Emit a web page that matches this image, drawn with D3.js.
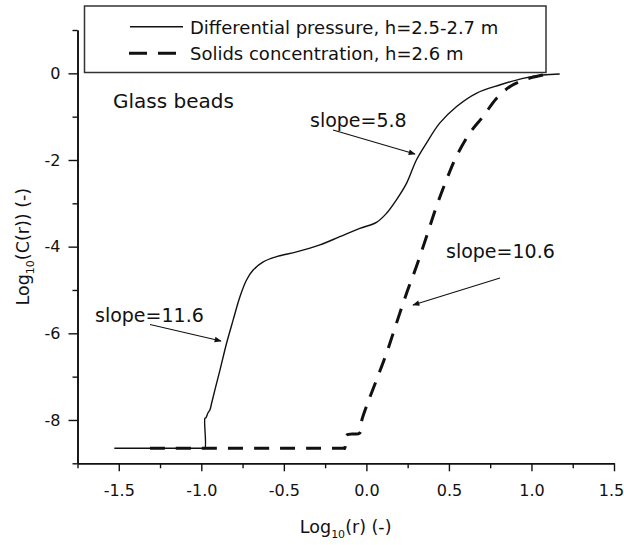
<!DOCTYPE html>
<html>
<head>
<meta charset="utf-8">
<script src="https://d3js.org/d3.v7.min.js"></script>
<style>
  body { margin: 0; background: #fff; }
  svg text { font-family: "DejaVu Sans", "Liberation Sans", Arial, sans-serif; fill: #111; }
</style>
</head>
<body>
<script>
// differential pressure, h=2.5-2.7 m (solid)
var pressureX = [-1.527, -0.99, -0.978, -0.978, -0.972, -0.96, -0.948, -0.938, -0.918, -0.887, -0.847, -0.807,
  -0.766, -0.726, -0.686, -0.625, -0.544, -0.423, -0.282, -0.161, -0.04, 0.061, 0.122, 0.182, 0.243,
  0.303, 0.364, 0.444, 0.545, 0.666, 0.807, 0.949, 1.07, 1.171];
var pressureY = [-8.654, -8.654, -8.654, -7.96, -7.95, -7.84, -7.77, -7.62, -7.31, -6.85, -6.23, -5.69,
  -5.155, -4.77, -4.54, -4.35, -4.23, -4.12, -3.96, -3.77, -3.58, -3.44, -3.23, -2.92, -2.54,
  -2.0, -1.61, -1.15, -0.77, -0.46, -0.27, -0.115, -0.04, -0.015];

// solids concentration, h=2.6 m (dashed)
var solidsX = [-1.311, -0.14, -0.131, -0.12, -0.04, -0.03, 0.0, 0.061, 0.122, 0.182, 0.243, 0.303, 0.364,
  0.424, 0.485, 0.545, 0.626, 0.706, 0.788, 0.868, 0.929, 1.0, 1.07];
var solidsY = [-8.654, -8.654, -8.654, -8.35, -8.30, -8.04, -7.69, -7.08, -6.46, -5.77, -5.08, -4.46, -3.77,
  -3.08, -2.46, -1.92, -1.38, -1.0, -0.58, -0.31, -0.19, -0.10, -0.04];

var xMajor = [-1.5, -1.0, -0.5, 0.0, 0.5, 1.0, 1.5];
var xMinor = [-1.75, -1.25, -0.75, -0.25, 0.25, 0.75, 1.25];
var yMajor = [0, -2, -4, -6, -8];
var yMinor = [1, -1, -3, -5, -7, -9];

var legendLabels = ["Differential pressure, h=2.5-2.7 m", "Solids concentration, h=2.6 m"];

var svgWidth = 624;
var svgHeight = 545;

var svg = d3.select("body")
  .append("svg")
  .attr("width", svgWidth)
  .attr("height", svgHeight);

var x = d3.scaleLinear().domain([-1.75, 1.5]).range([77.5, 614]);
var y = d3.scaleLinear().domain([-9, 1]).range([463.3, 30]);

// arrow head
svg.append("defs")
  .append("marker")
  .attr("id", "head")
  .attr("viewBox", "0 0 10 10")
  .attr("refX", 9)
  .attr("refY", 5)
  .attr("markerWidth", 9)
  .attr("markerHeight", 7)
  .attr("markerUnits", "userSpaceOnUse")
  .attr("orient", "auto")
  .append("path")
  .attr("d", "M0,1 L10,5 L0,9 Z")
  .attr("fill", "#111");

// axes
function styleAxis(g) {
  g.selectAll("path.domain").attr("stroke", "#111").attr("stroke-width", 1.6);
  g.selectAll(".tick line").attr("stroke", "#111").attr("stroke-width", 1.4);
}

svg.append("g")
  .attr("transform", "translate(0," + y(-9) + ")")
  .call(d3.axisBottom(x).tickValues(xMinor).tickSize(5).tickSizeOuter(0).tickFormat(""))
  .call(styleAxis);

svg.append("g")
  .attr("transform", "translate(0," + y(-9) + ")")
  .call(d3.axisBottom(x).tickValues(xMajor).tickSize(8).tickSizeOuter(0).tickPadding(13)
    .tickFormat(function (d) { return d.toFixed(1); }))
  .call(styleAxis)
  .selectAll("text")
  .attr("font-size", "16px")
  .attr("fill", "#111")
  .attr("dx", function (d) { return d === 1.5 ? -3 : 0; });

svg.append("g")
  .attr("transform", "translate(" + x(-1.75) + ",0)")
  .call(d3.axisLeft(y).tickValues(yMinor).tickSize(5).tickSizeOuter(0).tickFormat(""))
  .call(styleAxis);

svg.append("g")
  .attr("transform", "translate(" + x(-1.75) + ",0)")
  .call(d3.axisLeft(y).tickValues(yMajor).tickSize(9).tickSizeOuter(0).tickPadding(8)
    .tickFormat(function (d) { return String(d); }))
  .call(styleAxis)
  .selectAll("text")
  .attr("font-size", "16px")
  .attr("fill", "#111");

// axis titles
var xTitle = svg.append("text")
  .attr("x", 345.7)
  .attr("y", 533)
  .attr("text-anchor", "middle")
  .attr("font-size", "17.5px");
xTitle.append("tspan").text("Log");
xTitle.append("tspan").attr("font-size", "11px").attr("dy", 5).text("10");
xTitle.append("tspan").attr("dy", -5).text("(r) (-)");

var yTitle = svg.append("text")
  .attr("transform", "translate(29," + (y(-9) + y(1)) / 2 + ") rotate(-90)")
  .attr("text-anchor", "middle")
  .attr("font-size", "17.5px");
yTitle.append("tspan").text("Log");
yTitle.append("tspan").attr("font-size", "11px").attr("dy", 5).text("10");
yTitle.append("tspan").attr("dy", -5).text("(C(r)) (-)");

// curves
var line = d3.line()
  .curve(d3.curveCatmullRom.alpha(0.5))
  .x(function (d) { return x(d[0]); })
  .y(function (d) { return y(d[1]); });

svg.append("path")
  .datum(d3.zip(pressureX, pressureY))
  .attr("d", line)
  .attr("fill", "none")
  .attr("stroke", "#111")
  .attr("stroke-width", 1.4);

svg.append("path")
  .datum(d3.zip(solidsX, solidsY))
  .attr("d", line)
  .attr("fill", "none")
  .attr("stroke", "#111")
  .attr("stroke-width", 3)
  .attr("stroke-dasharray", "15,11");

// legend
svg.append("rect")
  .attr("x", 84.5)
  .attr("y", 6)
  .attr("width", 461.5)
  .attr("height", 66.5)
  .attr("fill", "#fff")
  .attr("stroke", "#333")
  .attr("stroke-width", 1.5);

svg.append("line")
  .attr("x1", 130).attr("x2", 183)
  .attr("y1", 26.7).attr("y2", 26.7)
  .attr("stroke", "#111")
  .attr("stroke-width", 1.4);

svg.append("line")
  .attr("x1", 129).attr("x2", 176)
  .attr("y1", 53.3).attr("y2", 53.3)
  .attr("stroke", "#111")
  .attr("stroke-width", 3)
  .attr("stroke-dasharray", "18,11");

svg.selectAll("text.legend")
  .data(legendLabels)
  .enter()
  .append("text")
  .attr("class", "legend")
  .attr("x", 190)
  .attr("y", function (d, i) { return 33.5 + i * 26.6; })
  .attr("font-size", "18px")
  .text(function (d) { return d; });

// annotations
svg.append("text")
  .attr("x", 113)
  .attr("y", 107.7)
  .attr("font-size", "20px")
  .text("Glass beads");

var notes = [
  { text: "slope=5.8", tx: 310, ty: 126.5, x1: 333, y1: 130, x2: 415, y2: 154 },
  { text: "slope=10.6", tx: 446, ty: 258, x1: 500, y1: 278, x2: 413, y2: 305 },
  { text: "slope=11.6", tx: 95, ty: 321.5, x1: 150, y1: 324.5, x2: 221, y2: 341 }
];

notes.forEach(function (n) {
  svg.append("text")
    .attr("x", n.tx)
    .attr("y", n.ty)
    .attr("font-size", "19px")
    .text(n.text);
  svg.append("line")
    .attr("x1", n.x1).attr("y1", n.y1)
    .attr("x2", n.x2).attr("y2", n.y2)
    .attr("stroke", "#111")
    .attr("stroke-width", 1.1)
    .attr("marker-end", "url(#head)");
});
</script>
</body>
</html>
